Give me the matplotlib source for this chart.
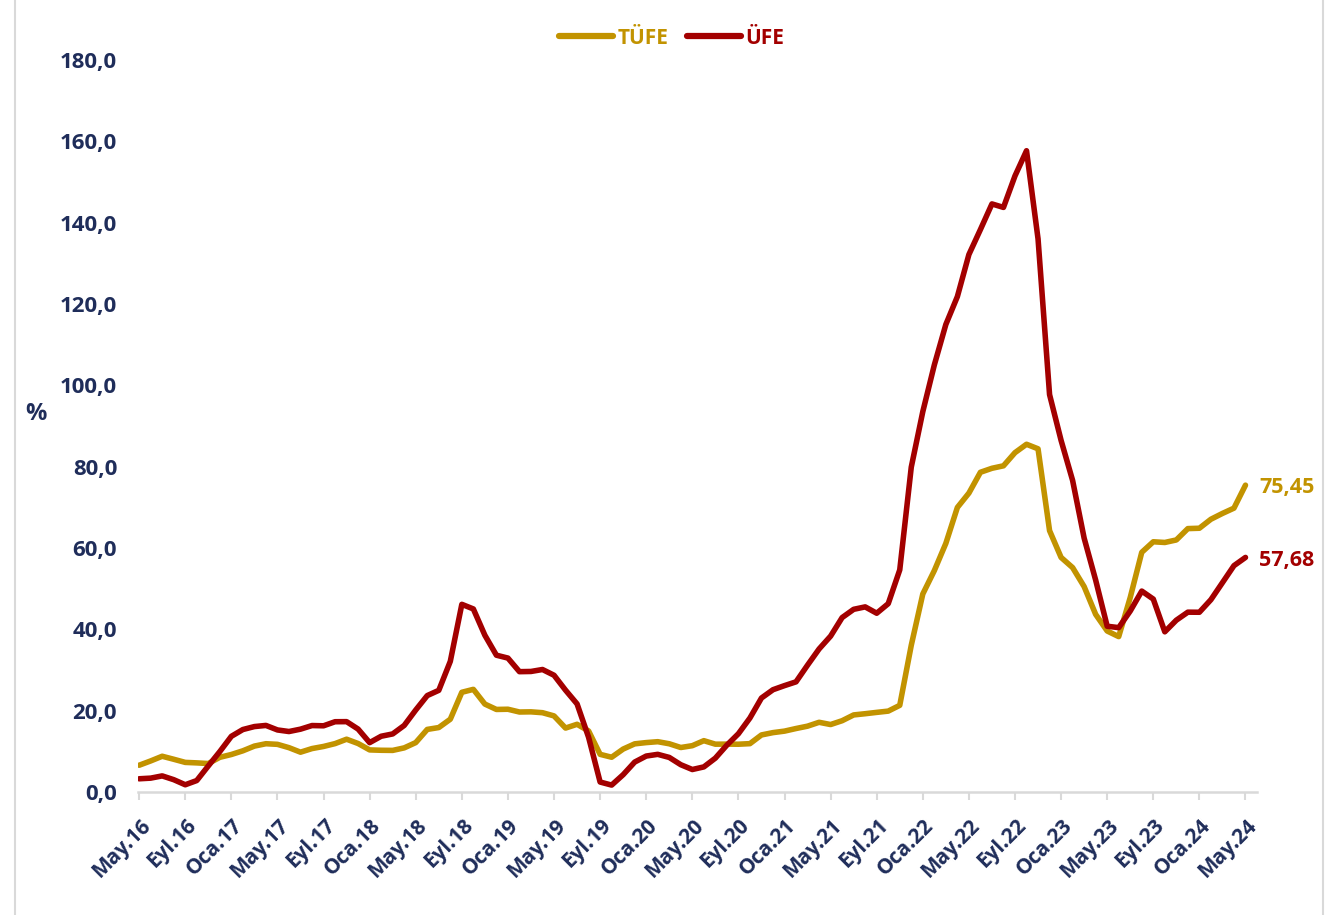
import matplotlib
matplotlib.use("Agg")
import matplotlib.pyplot as plt
from matplotlib.lines import Line2D
import matplotlib.transforms as mtransforms

months_tr = ["Oca", "Şub", "Mar", "Nis", "May", "Haz", "Tem", "Ağu", "Eyl", "Eki", "Kas", "Ara"]

tufe = [
    6.58, 7.64, 8.79, 8.05, 7.28, 7.16, 7.00, 8.53,
    9.22, 10.13, 11.29, 11.87, 11.72, 10.90, 9.79, 10.68, 11.20, 11.90, 12.98, 11.92,
    10.35, 10.26, 10.23, 10.85, 12.15, 15.39, 15.85, 17.90, 24.52, 25.24, 21.62, 20.30,
    20.35, 19.67, 19.71, 19.50, 18.71, 15.72, 16.65, 15.01, 9.26, 8.55, 10.56, 11.84,
    12.15, 12.37, 11.86, 10.94, 11.39, 12.62, 11.76, 11.77, 11.75, 11.89, 14.03, 14.60,
    14.97, 15.61, 16.19, 17.14, 16.59, 17.53, 18.95, 19.25, 19.58, 19.89, 21.31, 36.08,
    48.69, 54.44, 61.14, 69.97, 73.50, 78.62, 79.60, 80.21, 83.45, 85.51, 84.39, 64.27,
    57.68, 55.18, 50.51, 43.68, 39.59, 38.21, 47.83, 58.94, 61.53, 61.36, 61.98, 64.77,
    64.86, 67.07, 68.50, 69.80, 75.45,
]
ufe = [
    3.25, 3.41, 3.96, 3.03, 1.78, 2.82, 6.41, 9.94,
    13.69, 15.36, 16.09, 16.37, 15.26, 14.87, 15.45, 16.34, 16.28, 17.28, 17.30, 15.47,
    12.14, 13.71, 14.28, 16.37, 20.16, 23.71, 25.00, 32.13, 46.15, 45.01, 38.54, 33.64,
    32.93, 29.59, 29.64, 30.12, 28.71, 25.04, 21.66, 13.45, 2.45, 1.70, 4.26, 7.36,
    8.84, 9.26, 8.50, 6.71, 5.53, 6.17, 8.33, 11.53, 14.33, 18.20, 23.11, 25.15,
    26.16, 27.09, 31.20, 35.17, 38.33, 42.89, 44.92, 45.52, 43.96, 46.31, 54.62, 79.89,
    93.53, 105.01, 114.97, 121.82, 132.16, 138.31, 144.61, 143.75, 151.50, 157.69, 136.02, 97.72,
    86.46, 76.61, 62.43, 52.11, 40.76, 40.42, 44.50, 49.41, 47.44, 39.39, 42.25, 44.22,
    44.20, 47.29, 51.47, 55.66, 57.68,
]

# month labels May.16 ... May.24
labels = []
m, y = 4, 16
for _ in range(len(tufe)):
    labels.append(f"{months_tr[m]}.{y:02d}")
    m += 1
    if m == 12:
        m, y = 0, y + 1

yticks = [0, 20, 40, 60, 80, 100, 120, 140, 160, 180]

C_TUFE = "#C29300"
C_UFE = "#A30000"
NAVY = "#1F2D5A"
FONT = "Open Sans"

fig = plt.figure(figsize=(13.3, 9.15), dpi=100)
ax = fig.add_axes([138 / 1330, 1 - 792 / 915, (1257 - 138) / 1330, (792 - 60) / 915])

x = list(range(len(tufe)))
ax.plot(x, tufe, color=C_TUFE, lw=4.0, solid_joinstyle="round", solid_capstyle="round", zorder=3)
ax.plot(x, ufe, color=C_UFE, lw=4.0, solid_joinstyle="round", solid_capstyle="round", zorder=3)

ax.set_ylim(0, 180)
ax.set_xlim(-0.1, len(tufe))
ax.set_yticks(yticks)
ax.set_yticklabels([f"{v:.1f}".replace(".", ",") for v in yticks],
                   fontsize=16, fontweight="bold", color=NAVY, family=FONT)
ax.tick_params(axis="y", length=0, pad=15)

tick_pos = x[::4]
ax.set_xticks(tick_pos)
ax.set_xticklabels([labels[i] for i in tick_pos], rotation=45, ha="right",
                   va="center", rotation_mode="anchor",
                   fontsize=15, fontweight="bold", color=NAVY, family=FONT)
ax.tick_params(axis="x", length=6, width=1.5, color="#D9D9D9", pad=16)
offset = mtransforms.ScaledTranslation(8 / 100, 0, fig.dpi_scale_trans)
for lbl in ax.get_xticklabels():
    lbl.set_transform(lbl.get_transform() + offset)

for s in ["top", "right", "left"]:
    ax.spines[s].set_visible(False)
ax.spines["bottom"].set_color("#D9D9D9")
ax.spines["bottom"].set_linewidth(1.8)

# end labels
ax.annotate(f"{tufe[-1]:.2f}".replace(".", ","), (x[-1], tufe[-1]), xytext=(10, -2),
            textcoords="offset points", va="center", ha="left", fontsize=15.5,
            fontweight="bold", color=C_TUFE, family=FONT, annotation_clip=False)
ax.annotate(f"{ufe[-1]:.2f}".replace(".", ","), (x[-1], ufe[-1]), xytext=(10, -2),
            textcoords="offset points", va="center", ha="left", fontsize=15.5,
            fontweight="bold", color=C_UFE, family=FONT, annotation_clip=False)

fig.text(36 / 1330, 1 - 414 / 915, "%", fontsize=17, fontweight="bold", color=NAVY,
         family=FONT, ha="center", va="center")

handles = [Line2D([0], [0], color=C_TUFE, lw=4.5, solid_capstyle="round"),
           Line2D([0], [0], color=C_UFE, lw=4.5, solid_capstyle="round")]
leg = fig.legend(handles, ["TÜFE", "ÜFE"], loc="center", bbox_to_anchor=(0.505, 1 - 38 / 915),
                 ncol=2, frameon=False, handlelength=2.6, handletextpad=0.2, columnspacing=0.9,
                 prop={"family": FONT, "weight": "bold", "size": 15})
for t, c in zip(leg.get_texts(), [C_TUFE, C_UFE]):
    t.set_color(c)

# outer frame lines
fig.add_artist(Line2D([15 / 1330, 15 / 1330], [0, 1], color="#D9D9D9", lw=1.5))
fig.add_artist(Line2D([1323 / 1330, 1323 / 1330], [0, 1], color="#D9D9D9", lw=1.5))

fig.savefig("out.png", dpi=100, facecolor="white")
